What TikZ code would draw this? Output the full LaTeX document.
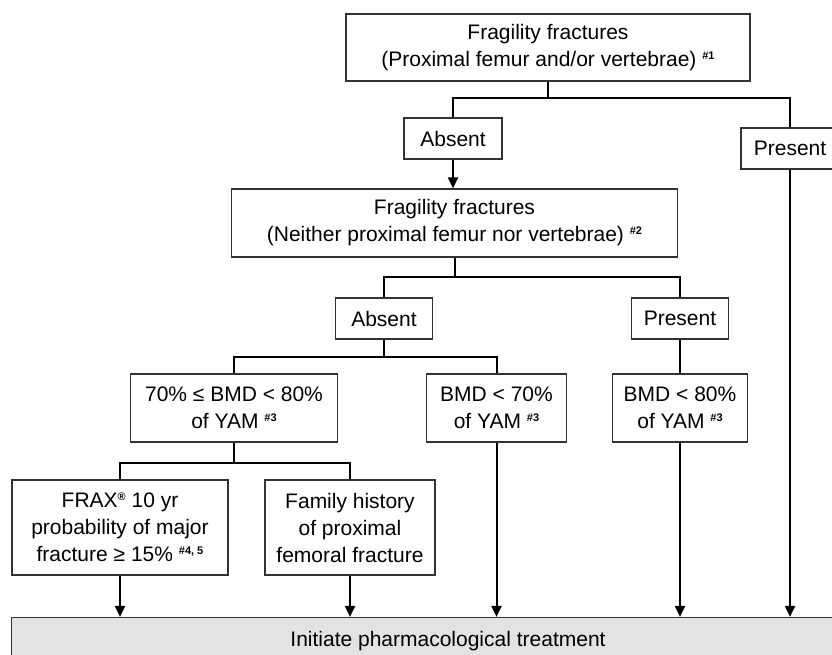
\documentclass[tikz,border=0pt]{standalone}
\usepackage{fontspec}
\setmainfont{Liberation Sans}
\usepackage{tikz}
\usetikzlibrary{arrows.meta}

\newcommand{\fnref}[1]{\raisebox{7pt}{\fontsize{11}{11}\selectfont\bfseries\##1}}
\newcommand{\regmark}{\raisebox{7pt}{\fontsize{11}{11}\selectfont\bfseries\textregistered}}

\begin{document}
\begin{tikzpicture}[x=1pt,y=-1pt,
    box/.style={draw=black!80, line width=1.2pt, fill=white, align=center, inner sep=0pt, font=\fontsize{21}{27}\selectfont},
    link/.style={line width=2pt},
    arr/.style={line width=2pt,-{Triangle[length=11pt,width=10pt]}}]
    \useasboundingbox (0,0) rectangle (832,655);
    % boxes
    \node[box, minimum width=404pt, minimum height=67pt] (top) at (548,47.5) {Fragility fractures\\(Proximal femur and/or vertebrae) \fnref{1}};
    \node[box, minimum width=98pt, minimum height=41pt] (abs1) at (453,138.5) {Absent};
    \node[box, minimum width=98pt, minimum height=41pt] (pres1) at (790,148.5) {Present};
    \node[box, minimum width=446pt, minimum height=68pt] (mid) at (454.5,223) {Fragility fractures\\(Neither proximal femur nor vertebrae) \fnref{2}};
    \node[box, minimum width=97pt, minimum height=41pt] (abs2) at (384,318.5) {Absent};
    \node[box, minimum width=97pt, minimum height=41pt] (pres2) at (680,318.5) {Present};
    \node[box, minimum width=207pt, minimum height=68pt] (bmd78) at (234,408) {70\% ≤ BMD < 80\%\\of YAM \fnref{3}};
    \node[box, minimum width=140pt, minimum height=68pt] (bmd70) at (496.5,408) {BMD < 70\%\\of YAM \fnref{3}};
    \node[box, minimum width=135pt, minimum height=68pt] (bmd80) at (680,408) {BMD < 80\%\\of YAM \fnref{3}};
    \node[box, minimum width=216pt, minimum height=95pt] (frax) at (120,527.5) {FRAX\regmark{} 10 yr\\probability of major\\fracture ≥ 15\% \fnref{4, 5}};
    \node[box, minimum width=170pt, minimum height=95pt] (fam) at (350,527.5) {Family history\\of proximal\\femoral fracture};
    \node[box, fill=black!11, minimum width=873pt, minimum height=47pt] (treat) at (448,641) {Initiate pharmacological treatment};
    % branches
    \coordinate (j1) at (548,98);
    \coordinate (j2) at (454.5,277);
    \coordinate (j3) at (384,357);
    \coordinate (j4) at (234,463);
    \draw[link] (top.south) -- (j1);
    \draw[link] (abs1.north) |- (j1) -| (pres1.north);
    \draw[arr] (abs1.south) -- (abs1.south |- mid.north);
    \draw[link] (mid.south) -- (j2);
    \draw[link] (abs2.north) |- (j2) -| (pres2.north);
    \draw[link] (abs2.south) -- (j3);
    \draw[link] (bmd78.north) |- (j3) -| (bmd70.north);
    \draw[link] (pres2.south) -- (bmd80.north);
    \draw[link] (bmd78.south) -- (j4);
    \draw[link] (frax.north) |- (j4) -| (fam.north);
    \foreach \n in {frax,fam,bmd70,bmd80,pres1} {\draw[arr] (\n.south) -- (\n.south |- treat.north);}
\end{tikzpicture}
\end{document}
